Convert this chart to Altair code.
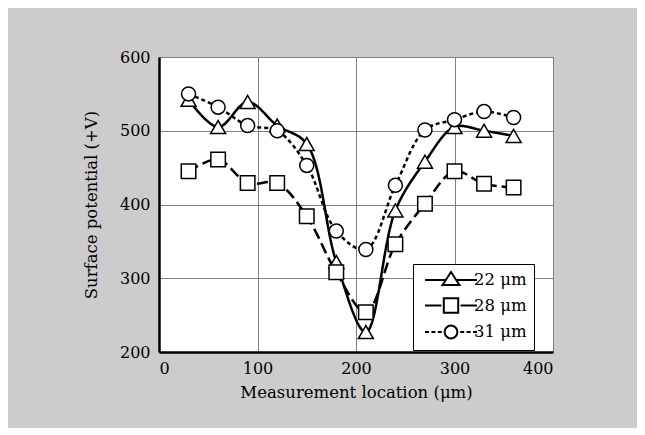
import altair as alt
import pandas as pd

# Data
locations = [30, 60, 90, 120, 150, 180, 210, 240, 270, 300, 330, 360]
series_names = ["22 μm", "28 μm", "31 μm"]
values_22 = [542, 505, 539, 507, 482, 322, 227, 392, 458, 505, 500, 493]
values_28 = [445, 461, 429, 429, 384, 308, 254, 346, 401, 445, 428, 423]
values_31 = [550, 532, 507, 500, 453, 364, 339, 426, 501, 515, 526, 518]
x_ticks = [0, 100, 200, 300, 400]
y_ticks = [200, 300, 400, 500, 600]

rows = []
for name, vals in zip(series_names, [values_22, values_28, values_31]):
    for loc, v in zip(locations, vals):
        rows.append({"series": name, "loc": loc, "val": v})
df = pd.DataFrame(rows)

FONT = "DejaVu Serif"

# legend symbols: line + marker drawn as one path (unit = 8 px)
P22 = "M-3.25,0H-0.62M0.62,0H3.25M0,-1L1.06,0.63L-1.06,0.63Z"
P28 = "M-3.25,0H-1.2M1.2,0H3.25M-0.9,-0.9H0.9V0.9H-0.9Z"
P31 = ("M-3.25,0H-2.75M-2.45,0H-1.95M-1.65,0H-1.15"
       "M1.15,0H1.65M1.95,0H2.45M2.75,0H3.25"
       "M0.8,0C0.8,0.4418 0.4418,0.8 0,0.8C-0.4418,0.8 -0.8,0.4418 -0.8,0"
       "C-0.8,-0.4418 -0.4418,-0.8 0,-0.8C0.4418,-0.8 0.8,-0.4418 0.8,0Z")

x_enc = alt.X("loc:Q",
              scale=alt.Scale(domain=[0, 400], nice=False),
              axis=alt.Axis(values=x_ticks, title="Measurement location (μm)",
                            grid=True, ticks=False, labelPadding=8,
                            titlePadding=8))
y_enc = alt.Y("val:Q",
              scale=alt.Scale(domain=[200, 600], nice=False, zero=False),
              axis=alt.Axis(values=y_ticks, title="Surface potential (+V)",
                            grid=True, ticks=False, labelPadding=9,
                            titleX=-68, titleBaseline="middle"))

lines = alt.Chart(df).mark_line(
    interpolate="catmull-rom", color="black", strokeWidth=2.5
).encode(
    x=x_enc, y=y_enc,
    strokeDash=alt.StrokeDash("series:N",
                              scale=alt.Scale(domain=series_names,
                                              range=[[1, 0], [11, 5], [4, 3]]),
                              legend=None),
    order=alt.Order("loc:Q"),
)

points = alt.Chart(df).mark_point(
    filled=True, fill="white", stroke="black", strokeWidth=1.5, opacity=1
).encode(
    x=x_enc, y=y_enc,
    shape=alt.Shape("series:N",
                    scale=alt.Scale(domain=series_names,
                                    range=["triangle-up", "square", "circle"]),
                    legend=None),
    size=alt.Size("series:N",
                  scale=alt.Scale(domain=series_names, range=[225, 196, 169]),
                  legend=None),
)

legend_layer = alt.Chart(df).transform_filter("false").mark_point(
    filled=False, color="black", strokeWidth=2, opacity=1
).encode(
    x=x_enc, y=y_enc,
    shape=alt.Shape("series:N",
                    scale=alt.Scale(domain=series_names, range=[P22, P28, P31]),
                    legend=alt.Legend(
                        orient="none", legendX=254, legendY=207, title=None,
                        fillColor="white", strokeColor="black", padding=7,
                        rowPadding=3.5, symbolSize=256, symbolOffset=22,
                        labelOffset=14, symbolStrokeWidth=2,
                        symbolStrokeColor="black", symbolOpacity=1,
                        labelFont=FONT, labelFontSize=16.5, labelColor="black",
                    )),
)

chart = alt.layer(lines, points, legend_layer).resolve_scale(
    shape="independent"
).resolve_legend(shape="independent").properties(
    width=394, height=295,
    autosize=alt.AutoSizeParams(type="none"),
    padding={"left": 151, "top": 49, "right": 84, "bottom": 76},
    background="#cccccc",
).configure_view(
    fill="white", stroke="black", strokeWidth=1
).configure_axis(
    labelFont=FONT, labelFontSize=16, labelColor="black",
    titleFont=FONT, titleFontSize=16.5, titleFontWeight="normal", titleColor="black",
    gridColor="#808080", gridWidth=1, gridOpacity=1,
    domainColor="black", domainWidth=2.5,
)

chart.save("out.html", embed_options={"renderer": "svg", "actions": False})
